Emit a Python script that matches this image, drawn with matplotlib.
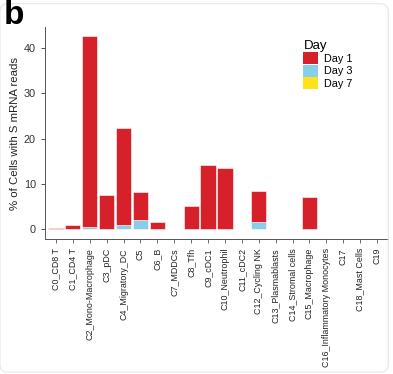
import matplotlib
matplotlib.use("Agg")
import matplotlib.pyplot as plt
from matplotlib.patches import Patch, FancyBboxPatch
import numpy as np

plt.rcParams['font.family'] = ['Liberation Sans', 'DejaVu Sans']

clusters = ["C0_CD8 T", "C1_CD4 T", "C2_Mono-Macrophage", "C3_pDC", "C4_Migratory_DC",
            "C5", "C6_B", "C7_MDDCs", "C8_Tfh", "C9_cDC1", "C10_Neutrophil", "C11_cDC2",
            "C12_Cycling NK", "C13_Plasmablasts", "C14_Stromal cells", "C15_Macrophage",
            "C16_Inflammatory Monocytes", "C17", "C18_Mast Cells", "C19"]
day7 = [0, 0, 0, 0, 0, 0, 0, 0, 0, 0, 0, 0, 0, 0.12, 0, 0, 0.06, 0.06, 0.06, 0.06]
day3 = [0, 0, 0.4, 0, 0.9, 2.0, 0, 0, 0, 0, 0, 0, 1.5, 0, 0, 0, 0, 0, 0, 0]
day1 = [0.3, 1.0, 42.3, 7.6, 21.4, 6.3, 1.6, 0, 5.0, 14.2, 13.6, 0, 7.0, 0, 0, 7.0, 0, 0, 0, 0]

colors = {"Day 1": "#D7212A", "Day 3": "#87CEEB", "Day 7": "#FFE31A"}

fig = plt.figure(figsize=(3.93, 3.74), dpi=100)
ax = fig.add_axes([45 / 393, 1 - 239 / 374, 343 / 393, 212 / 374])

x = np.arange(len(clusters))
d7 = np.array(day7)
d3 = np.array(day3)
d1 = np.array(day1)
ax.bar(x, d7, width=0.9, color=colors["Day 7"], edgecolor="white", linewidth=0.4)
ax.bar(x, d3, width=0.9, bottom=d7, color=colors["Day 3"], edgecolor="white", linewidth=0.4)
ax.bar(x, d1, width=0.9, bottom=d7 + d3, color=colors["Day 1"], edgecolor="white", linewidth=0.4)

ax.set_xlim(-0.65, 19.65)
ax.set_ylim(-2.2, 44.7)
ax.set_yticks([0, 10, 20, 30, 40])
ax.set_xticks(x)
ax.set_xticklabels(clusters, rotation=90, fontsize=6.4, color="#222222")
ax.tick_params(axis="y", labelsize=7.8, colors="#333333", length=3, width=0.6)
ax.tick_params(axis="x", length=3, width=0.6, colors="#555555", labelcolor="#222222")
ax.set_ylabel("% of Cells with S mRNA reads", fontsize=8.2, color="#222222", labelpad=3)
for s in ["top", "right"]:
    ax.spines[s].set_visible(False)
for s in ["left", "bottom"]:
    ax.spines[s].set_color("#555555")
    ax.spines[s].set_linewidth(0.7)

handles = [Patch(facecolor=colors[k], edgecolor="none") for k in ["Day 1", "Day 3", "Day 7"]]
leg = ax.legend(handles, ["Day 1", "Day 3", "Day 7"], title="Day", loc="upper left",
                bbox_to_anchor=(0.725, 0.985), frameon=False, fontsize=7.8, title_fontsize=9.5,
                handlelength=1.3, handleheight=1.3, handletextpad=0.6, labelspacing=0.05)
leg._legend_box.align = "left"

fig.text(0.01, 1.0, "b", fontsize=24, fontweight="bold", va="top", ha="left")

border = FancyBboxPatch((0.0, 0.005), 0.988, 0.985, boxstyle="round,pad=0,rounding_size=0.02",
                        transform=fig.transFigure, facecolor="none", edgecolor="#e6e6e6",
                        linewidth=0.8)
fig.patches.append(border)

fig.savefig("out.png", dpi=100)
